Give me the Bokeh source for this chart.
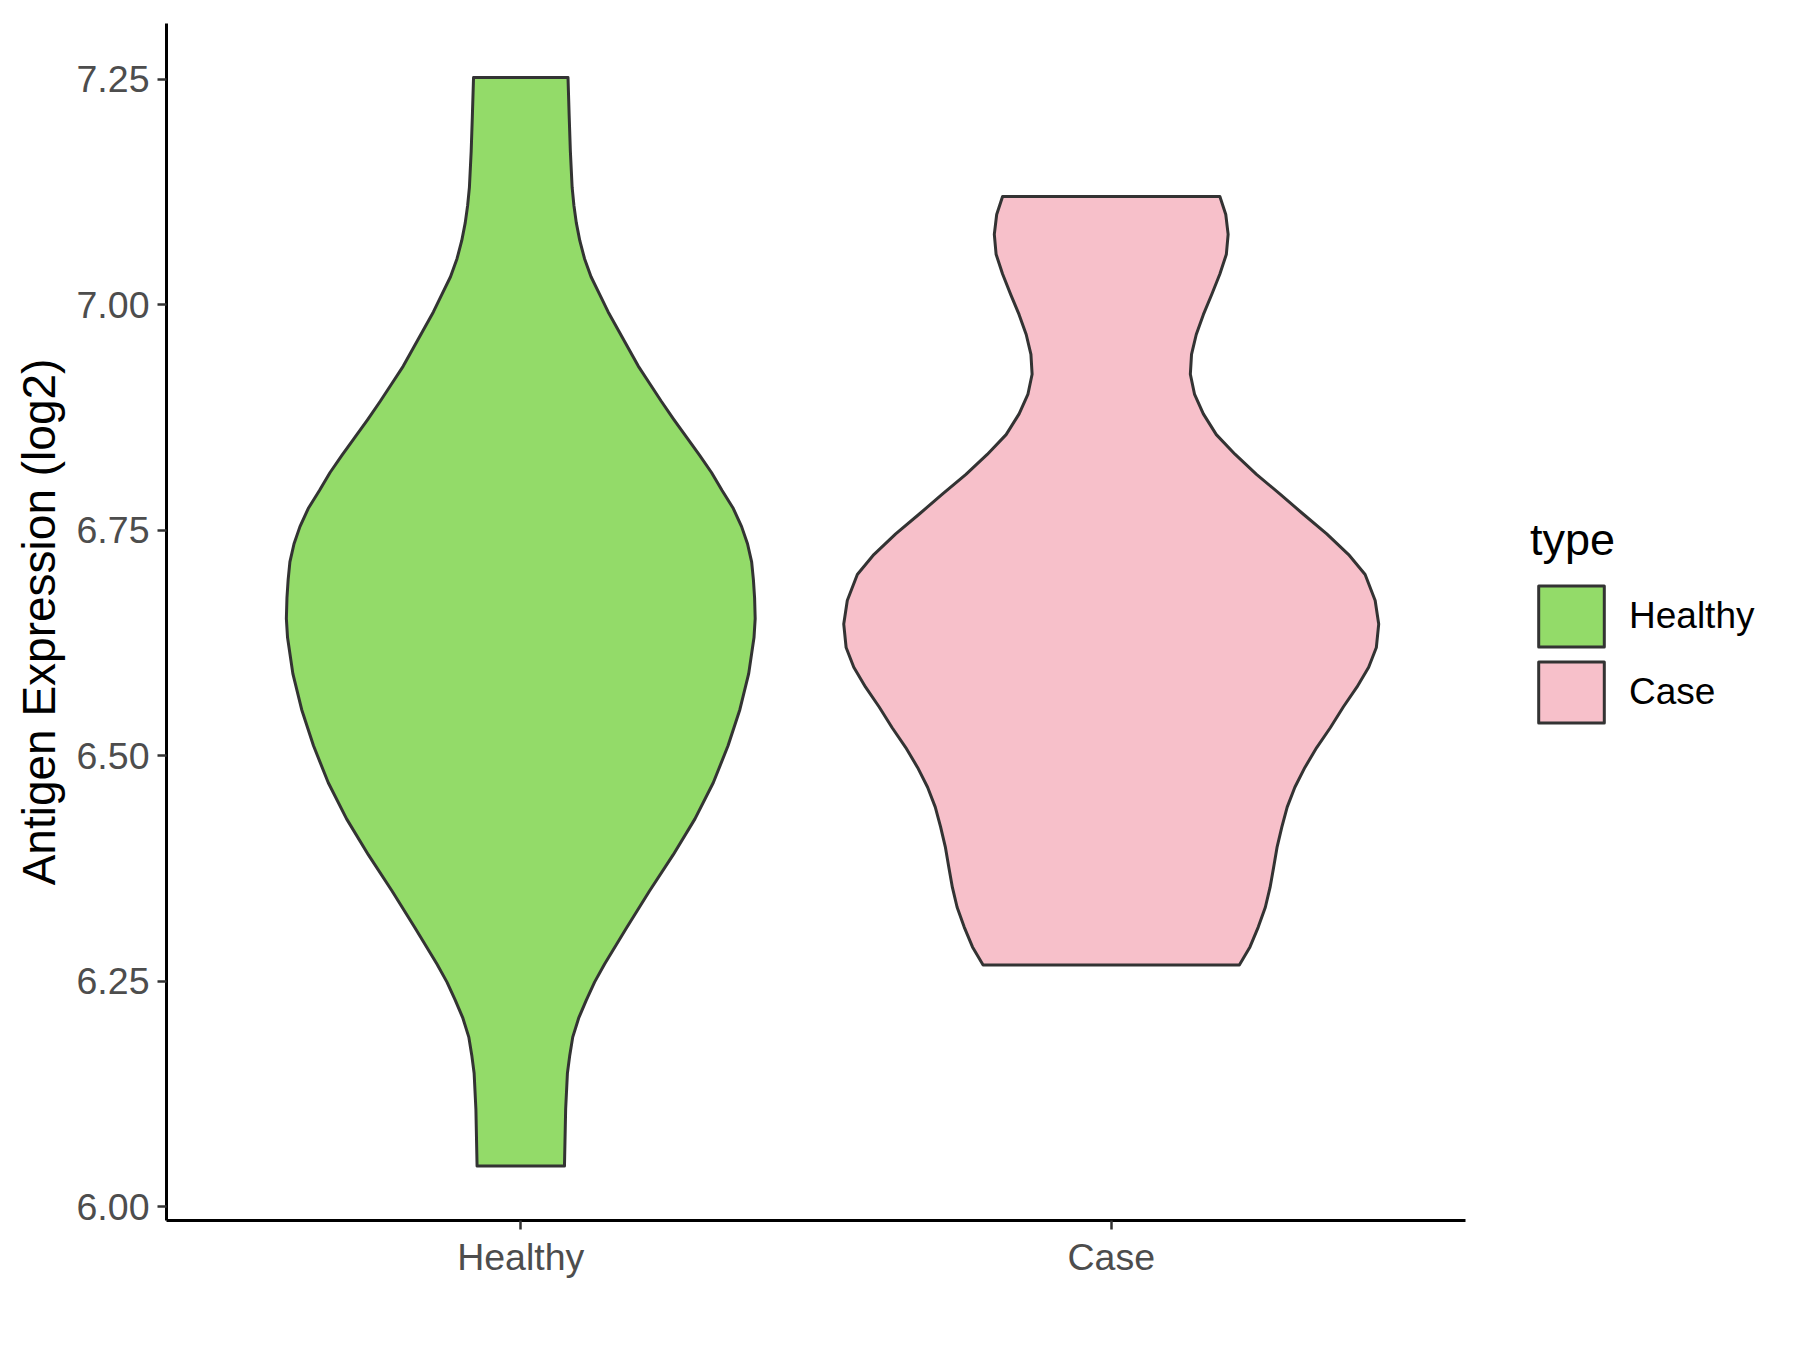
from bokeh.plotting import figure
from bokeh.models import Range1d, FixedTicker, Legend, LegendItem, NumeralTickFormatter
from bokeh.embed import file_html
from bokeh.resources import INLINE

categories = ["Healthy", "Case"]
positions = [1, 2]
fill_colors = ["#93DB69", "#F7C0CA"]
y_ticks = [6.00, 6.25, 6.50, 6.75, 7.00, 7.25]

# violin outlines: value level and half-width (x units)
healthy_y = [7.252, 7.209, 7.170, 7.130, 7.110, 7.091, 7.071, 7.051, 7.031, 7.011,
             6.992, 6.972, 6.952, 6.932, 6.913, 6.893, 6.873, 6.853, 6.833, 6.814,
             6.794, 6.774, 6.754, 6.735, 6.715, 6.695, 6.675, 6.652, 6.631, 6.591,
             6.551, 6.511, 6.470, 6.430, 6.390, 6.350, 6.309, 6.269, 6.249, 6.229,
             6.209, 6.188, 6.168, 6.148, 6.108, 6.045]
healthy_hw = [0.080, 0.082, 0.084, 0.087, 0.090, 0.094, 0.100, 0.108, 0.119, 0.134,
              0.148, 0.165, 0.182, 0.199, 0.218, 0.238, 0.259, 0.281, 0.303, 0.323,
              0.341, 0.360, 0.374, 0.384, 0.391, 0.394, 0.396, 0.397, 0.395, 0.386,
              0.371, 0.351, 0.326, 0.295, 0.258, 0.218, 0.179, 0.142, 0.125, 0.111,
              0.098, 0.088, 0.083, 0.079, 0.076, 0.074]

case_y = [7.120, 7.100, 7.078, 7.056, 7.034, 7.011, 6.989, 6.967, 6.945, 6.923,
          6.901, 6.879, 6.856, 6.834, 6.812, 6.790, 6.768, 6.746, 6.723, 6.701,
          6.672, 6.646, 6.620, 6.598, 6.576, 6.554, 6.531, 6.509, 6.487, 6.465,
          6.443, 6.421, 6.399, 6.376, 6.354, 6.332, 6.310, 6.288, 6.268]
case_hw = [0.184, 0.194, 0.198, 0.195, 0.184, 0.170, 0.156, 0.144, 0.136, 0.134,
           0.141, 0.156, 0.178, 0.210, 0.246, 0.286, 0.325, 0.365, 0.402, 0.430,
           0.447, 0.453, 0.449, 0.436, 0.416, 0.393, 0.371, 0.348, 0.328, 0.311,
           0.298, 0.289, 0.281, 0.275, 0.269, 0.261, 0.249, 0.235, 0.217]

profiles = [(healthy_y, healthy_hw), (case_y, case_hw)]

FONT = "Liberation Sans"
W, H = 1780, 1330
LEFT, TOP, BOTTOM = 166, 23, 110
AXIS_W = 1299                      # pixel length of the drawn x axis
X0, X1 = 0.4, 2.6                  # ggplot-style discrete range
# the frame extends past the x axis to hold the legend; axis drawn only on [X0, X1]
X_END = X0 + (X1 - X0) * (W - LEFT) / AXIS_W

p = figure(width=W, height=H, output_backend="svg", toolbar_location=None,
           x_range=Range1d(X0, X_END), y_range=Range1d(5.9847, 7.3118),
           min_border_left=LEFT, min_border_right=0, min_border_top=TOP,
           min_border_bottom=BOTTOM)
p.outline_line_color = None
p.xgrid.visible = False
p.ygrid.visible = False
p.background_fill_color = "white"
p.border_fill_color = "white"

renderers = []
for pos, (ys, hws), col in zip(positions, profiles, fill_colors):
    xs = [pos + h for h in hws] + [pos - h for h in reversed(hws)]
    yy = list(ys) + list(reversed(ys))
    r = p.patch(xs, yy, fill_color=col, line_color="#333333", line_width=3,
                line_join="round")
    renderers.append(r)

# axes
for ax in (p.xaxis[0], p.yaxis[0]):
    ax.axis_line_color = "black"
    ax.axis_line_width = 3
    ax.major_tick_line_color = "#333333"
    ax.major_tick_line_width = 2.5
    ax.major_tick_out = 9
    ax.major_tick_in = 0
    ax.minor_tick_line_color = None
    ax.major_label_text_font = FONT
    ax.major_label_text_font_size = "37.5px"
    ax.major_label_text_color = "#4D4D4D"

p.xaxis.bounds = (X0, X1)
p.xaxis.ticker = FixedTicker(ticks=positions)
p.xaxis.major_label_overrides = {pos: c for pos, c in zip(positions, categories)}
p.xaxis.major_label_standoff = 6

p.yaxis.ticker = FixedTicker(ticks=y_ticks)
p.yaxis.formatter = NumeralTickFormatter(format="0.00")
p.yaxis.major_label_standoff = 8
p.yaxis.axis_label = "Antigen Expression (log2)"
p.yaxis.axis_label_text_font = FONT
p.yaxis.axis_label_text_font_size = "46px"
p.yaxis.axis_label_text_font_style = "normal"
p.yaxis.axis_label_text_color = "black"
p.yaxis.axis_label_standoff = 9

legend = Legend(items=[LegendItem(label=c, renderers=[r]) for c, r in zip(categories, renderers)],
                title="type", location=(AXIS_W + 65, 490))
legend.title_text_font = FONT
legend.title_text_font_size = "45px"
legend.title_text_font_style = "normal"
legend.title_text_color = "black"
legend.title_standoff = 12
legend.label_text_font = FONT
legend.label_text_font_size = "37px"
legend.label_text_color = "black"
legend.glyph_width = 82
legend.glyph_height = 76
legend.spacing = 0
legend.label_standoff = 17
legend.padding = 0
legend.margin = 0
legend.border_line_color = None
legend.background_fill_alpha = 0
p.add_layout(legend)

open("out.html", "w").write(file_html(p, INLINE))
